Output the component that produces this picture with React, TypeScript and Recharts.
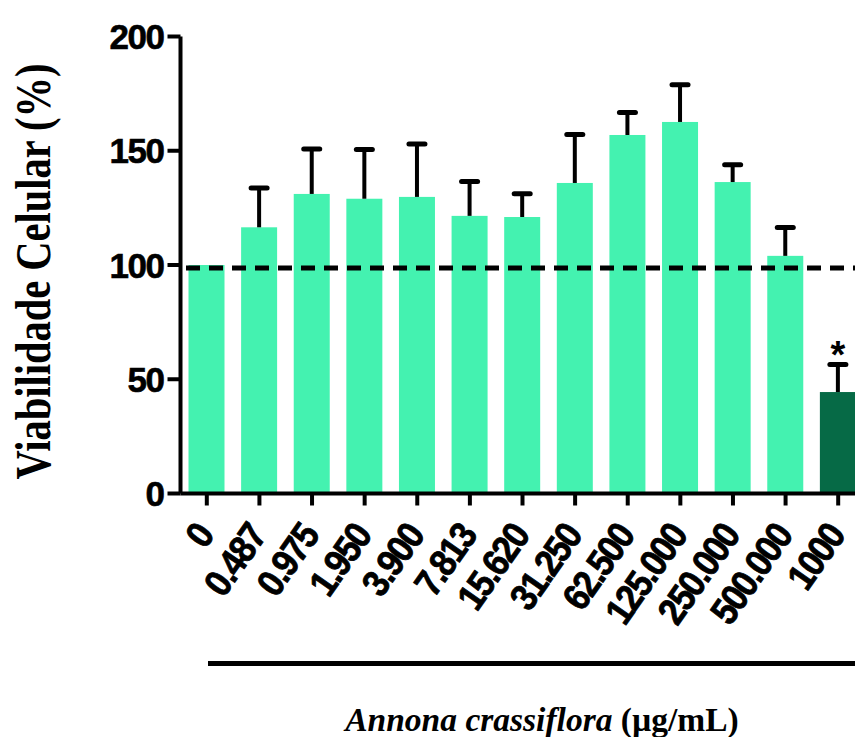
import { BarChart, Bar, XAxis, YAxis, ReferenceLine } from "recharts";

// concentrations (µg/mL)
const doses = ["0", "0.487", "0.975", "1.950", "3.900", "7.813", "15.620", "31.250", "62.500", "125.000", "250.000", "500.000", "1000"];
// mean cell viability (%)
const viability = [100, 116.5, 131.1, 129.0, 129.8, 121.5, 121.0, 135.9, 156.9, 162.6, 136.3, 104.0, 44.4];
// upper error (SD)
const errUp = [0, 17.2, 19.7, 21.6, 23.2, 15.0, 10.2, 21.2, 9.8, 16.3, 7.6, 12.4, 12.1];
const significant = [false, false, false, false, false, false, false, false, false, false, false, false, true];
const yTicks = [0, 50, 100, 150, 200];
const controlLine = 98.7;

const data = doses.map((d, i) => ({
    dose: d,
    value: viability[i],
    err: errUp[i],
    sig: significant[i],
}));

const BarWithError = (props: any) => {
    const { x, y, width, height, payload } = props;
    const perUnit = payload.value ? height / payload.value : 0;
    const cx = x + width / 2;
    const capY = y - payload.err * perUnit;
    return (
        <g>
            <rect x={x} y={y} width={width} height={height} fill={payload.sig ? "#066A46" : "#44F2B0"} />
            {payload.err > 0 && (
                <g stroke="#000" strokeLinecap="round">
                    <line x1={cx} y1={y} x2={cx} y2={capY} strokeWidth={4} strokeLinecap="butt" />
                    <line x1={cx - 8} y1={capY} x2={cx + 8} y2={capY} strokeWidth={5} />
                </g>
            )}
            {payload.sig && (
                <text x={cx} y={capY + 4} textAnchor="middle" fontSize={38} fontWeight="bold"
                    fontFamily="Liberation Sans, Arial" fill="#000">*</text>
            )}
        </g>
    );
};

const YTick = (props: any) => {
    const { x, y, payload } = props;
    return (
        <text x={x - 2} y={y} dy="0.36em" textAnchor="end" fontSize={35} fontWeight="bold" letterSpacing={-1.5}
            fontFamily="Liberation Sans, Arial" fill="#000" stroke="#000" strokeWidth={0.6}>
            {payload.value}
        </text>
    );
};

// rotated, slightly condensed labels like the original export
const XTick = (props: any) => {
    const { x, y, payload } = props;
    const tx = x + 8;
    const ty = y + 28.5;
    return (
        <text x={0} y={0} textAnchor="end" fontSize={38} fontWeight="bold" letterSpacing={-2}
            fontFamily="Liberation Sans, Arial" fill="#000" stroke="#000" strokeWidth={0.8}
            transform={`translate(${tx}, ${ty}) rotate(-55) scale(0.9, 1)`}>
            {payload.value}
        </text>
    );
};

export default function App() {
    return (
        <div style={{ position: "absolute", left: 0, top: 0, width: 855, height: 737, overflow: "hidden", background: "#fff" }}>
            <BarChart width={866} height={737} data={data} barCategoryGap={0} barSize={36}
                margin={{ top: 36.5, right: 1.5, bottom: 183.5, left: 0 }}>
                <YAxis domain={[0, 200]} ticks={yTicks} width={180.5} tickSize={13}
                    axisLine={{ stroke: "#000", strokeWidth: 4 }}
                    tickLine={{ stroke: "#000", strokeWidth: 4 }}
                    tick={<YTick />} />
                <XAxis dataKey="dose" height={60} tickSize={12} interval={0}
                    axisLine={{ stroke: "#000", strokeWidth: 4 }}
                    tickLine={{ stroke: "#000", strokeWidth: 4 }}
                    tick={<XTick />} />
                <Bar dataKey="value" shape={<BarWithError />} isAnimationActive={false} />
                <ReferenceLine y={controlLine} stroke="#000" strokeWidth={5} strokeDasharray="14 9" strokeDashoffset={17.5} />
            </BarChart>
            <div style={{ position: "absolute", left: 208, top: 661, width: 647, height: 5, background: "#000" }} />
            <svg width={855} height={737} style={{ position: "absolute", left: 0, top: 0, pointerEvents: "none" }}>
                <text transform="translate(50, 271.5) rotate(-90) scale(0.81, 1)" textAnchor="middle"
                    fontSize={50} fontWeight="bold" fontFamily="Liberation Serif, Times New Roman" fill="#000">
                    Viabilidade Celular (%)
                </text>
                <text x={542} y={731} textAnchor="middle" fontSize={33.5} fontWeight="bold"
                    fontFamily="Liberation Serif, Times New Roman" fill="#000">
                    <tspan fontStyle="italic">Annona crassiflora</tspan> (µg/mL)
                </text>
            </svg>
        </div>
    );
}
